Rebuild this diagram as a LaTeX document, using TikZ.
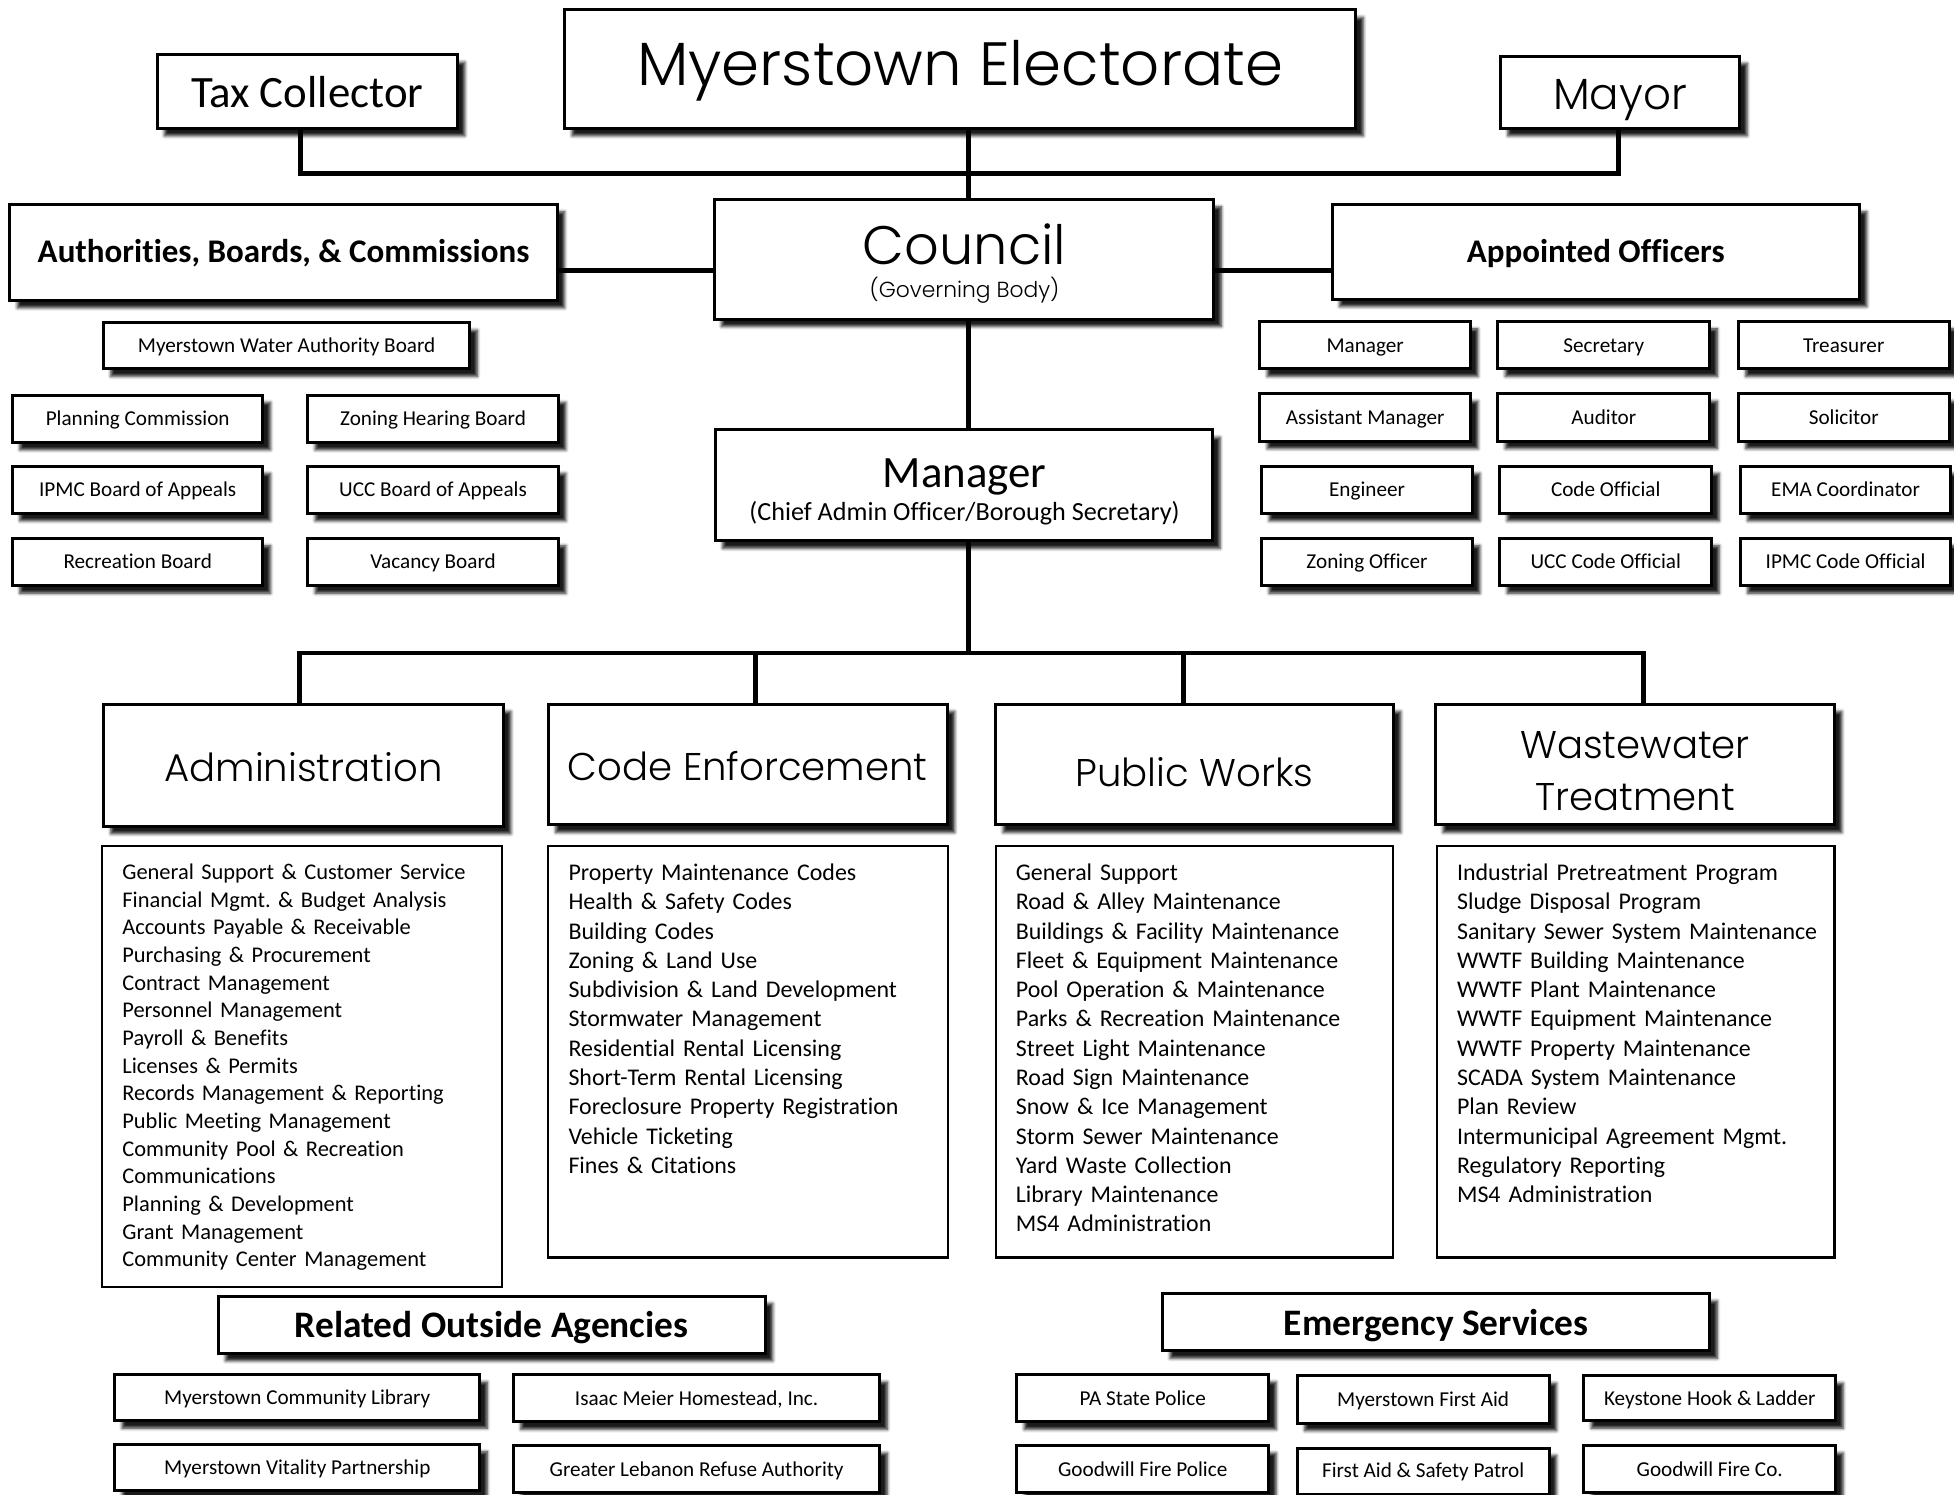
\documentclass[tikz,border=0pt]{standalone}
\usepackage{fontspec}
\setmainfont{Carlito}[Ligatures={NoCommon,NoContextual}]
\IfFontExistsTF{Poppins Light}{\newfontfamily\mont{Poppins Light}}{\newfontfamily\mont{Poppins}}
\usetikzlibrary{shadows.blur,backgrounds}
\tikzset{
  sbox/.style={draw, line width=2.4pt, fill=white, inner sep=0pt, outer sep=0pt, align=center,
    blur shadow={shadow xshift=6pt, shadow yshift=-6pt, shadow blur radius=2.5pt, shadow opacity=90}},
  wh/.style 2 args={minimum width=#1pt, minimum height=#2pt},
  th/.style={text height=#1pt, text depth=0pt},
  smbox/.style={sbox, th=11, font=\fontsize{17}{20}\selectfont},
  bighead/.style={sbox, th=26.4, font=\mont\fontsize{31}{38}\selectfont},
  boldhead/.style={sbox, th=17, font=\bfseries\fontsize{26.5}{30}\selectfont},
  lbox/.style={draw, line width=1.8pt, inner sep=0pt, outer sep=0pt},
  ltext/.style={anchor=north west, inner sep=0pt, align=left, text width=300pt},
  conn/.style={line width=4pt},
  txt/.style={inner sep=0pt, anchor=base},
}
\begin{document}
\frenchspacing
\begin{tikzpicture}[x=1pt,y=-1pt]
\useasboundingbox (0,0) rectangle (1568,1199);

% ---- top level
\node[sbox, wh={635}{95}, th=27, font=\mont\fontsize{49}{55}\selectfont] (elect) at (770.5,55.5) {Myerstown Electorate};
\node[sbox, wh={241}{59}, th=26, font=\fontsize{36}{40}\selectfont] (tax) at (246.5,73.5) {Tax Collector};
\node[sbox, wh={192}{58}, th=28.5, font=\mont\fontsize{35}{40}\selectfont] (mayor) at (1300,74) {Mayor};

\node[boldhead, wh={439}{77}] (abc) at (227.5,202.5) {Authorities, Boards, \& Commissions};
\node[sbox, wh={401}{96}] (council) at (773.5,208) {};
\node[txt, font=\mont\fontsize{43.5}{50}\selectfont] (counciltxt) at (774,212) {Council};
\node[txt, font=\mont\fontsize{17.5}{20}\selectfont] (govtxt) at (774,239) {(Governing Body)};
\node[boldhead, wh={423}{76}] (appt) at (1280.5,202) {Appointed Officers};

\node[sbox, wh={399}{89}] (mgr) at (773.5,389.5) {};
\node[txt, font=\fontsize{36}{40}\selectfont] (mgrtxt) at (774,391) {Manager};
\node[txt, font=\fontsize{21}{24}\selectfont] (mgrsub) at (774,418) {(Chief Admin Officer/Borough Secretary)};

% ---- authorities, boards & commissions
\node[smbox, wh={294}{37}] (wab) at (230,277.5) {Myerstown Water Authority Board};
\node[smbox, wh={201}{38}] (pc) at (110.5,336) {Planning Commission};
\node[smbox, wh={201}{38}] (zhb) at (347.5,336) {Zoning Hearing Board};
\node[smbox, wh={201}{38}] (ipmcb) at (110.5,393) {IPMC Board of Appeals};
\node[smbox, wh={201}{38}] (uccb) at (347.5,393) {UCC Board of Appeals};
\node[smbox, wh={201}{38}] (rec) at (110.5,451) {Recreation Board};
\node[smbox, wh={201}{38}] (vac) at (347.5,451) {Vacancy Board};

% ---- appointed officers
\node[smbox, wh={169}{38}] (o11) at (1095.5,277) {Manager};
\node[smbox, wh={170}{38}] (o12) at (1287,277) {Secretary};
\node[smbox, wh={169}{38}] (o13) at (1479.5,277) {Treasurer};
\node[smbox, wh={169}{38}] (o21) at (1095.5,335) {Assistant Manager};
\node[smbox, wh={170}{38}] (o22) at (1287,335) {Auditor};
\node[smbox, wh={169}{38}] (o23) at (1479.5,335) {Solicitor};
\node[smbox, wh={169}{38}] (o31) at (1097,393) {Engineer};
\node[smbox, wh={170}{38}] (o32) at (1288.5,393) {Code Official};
\node[smbox, wh={169}{38}] (o33) at (1481,393) {EMA Coordinator};
\node[smbox, wh={169}{38}] (o41) at (1097,451) {Zoning Officer};
\node[smbox, wh={170}{38}] (o42) at (1288.5,451) {UCC Code Official};
\node[smbox, wh={169}{38}] (o43) at (1481,451) {IPMC Code Official};

% ---- departments
\node[bighead, wh={321}{98}] (adm) at (243.5,614) {Administration};
\node[bighead, wh={320}{97}] (code) at (600,613.5) {Code Enforcement};
\node[bighead, wh={319}{97}, th=35] (pw) at (958.5,613.5) {Public Works};
\node[sbox, wh={320}{97}] (ww) at (1312,613.5) {};
\node[txt, font=\mont\fontsize{31}{38}\selectfont] (wwt1) at (1312,609) {Wastewater};
\node[txt, font=\mont\fontsize{31}{38}\selectfont] (wwt2) at (1312,650) {Treatment};

% ---- lists
\node[lbox, wh={321}{354}] (admL) at (242.5,856) {};
\node[ltext, font=\fontsize{18}{22.2}\selectfont] (admT) at (98,693) {General Support \& Customer Service\\
Financial Mgmt. \& Budget Analysis\\
Accounts Payable \& Receivable\\
Purchasing \& Procurement\\
Contract Management\\
Personnel Management\\
Payroll \& Benefits\\
Licenses \& Permits\\
Records Management \& Reporting\\
Public Meeting Management\\
Community Pool \& Recreation\\
Communications\\
Planning \& Development\\
Grant Management\\
Community Center Management};

\node[lbox, wh={321}{330}] (codeL) at (600.5,844) {};
\node[ltext, font=\fontsize{19.2}{23.5}\selectfont] (codeT) at (456,693) {Property Maintenance Codes\\
Health \& Safety Codes\\
Building Codes\\
Zoning \& Land Use\\
Subdivision \& Land Development\\
Stormwater Management\\
Residential Rental Licensing\\
Short-Term Rental Licensing\\
Foreclosure Property Registration\\
Vehicle Ticketing\\
Fines \& Citations};

\node[lbox, wh={319}{330}] (pwL) at (958.5,844) {};
\node[ltext, font=\fontsize{19.2}{23.5}\selectfont] (pwT) at (815,693) {General Support\\
Road \& Alley Maintenance\\
Buildings \& Facility Maintenance\\
Fleet \& Equipment Maintenance\\
Pool Operation \& Maintenance\\
Parks \& Recreation Maintenance\\
Street Light Maintenance\\
Road Sign Maintenance\\
Snow \& Ice Management\\
Storm Sewer Maintenance\\
Yard Waste Collection\\
Library Maintenance\\
MS4 Administration};

\node[lbox, wh={319}{330}] (wwL) at (1312.5,844) {};
\node[ltext, font=\fontsize{19.2}{23.5}\selectfont] (wwT) at (1169,693) {Industrial Pretreatment Program\\
Sludge Disposal Program\\
Sanitary Sewer System Maintenance\\
WWTF Building Maintenance\\
WWTF Plant Maintenance\\
WWTF Equipment Maintenance\\
WWTF Property Maintenance\\
SCADA System Maintenance\\
Plan Review\\
Intermunicipal Agreement Mgmt.\\
Regulatory Reporting\\
MS4 Administration};

% ---- bottom groups
\node[sbox, wh={439}{46}, th=21.3, font=\bfseries\fontsize{30}{34}\selectfont] (roa) at (394.5,1063) {Related Outside Agencies};
\node[sbox, wh={439}{46}, th=21.3, font=\bfseries\fontsize{30}{34}\selectfont] (es) at (1152.5,1061) {Emergency Services};

\node[smbox, wh={293}{37}] (lib) at (238.5,1121.5) {Myerstown Community Library};
\node[smbox, wh={294}{38}] (imh) at (559,1122) {Isaac Meier Homestead, Inc.};
\node[smbox, wh={293}{37}] (mvp) at (238.5,1177.5) {Myerstown Vitality Partnership};
\node[smbox, wh={294}{38}] (glra) at (559,1179) {Greater Lebanon Refuse Authority};

\node[smbox, wh={202}{38}] (pasp) at (917,1122) {PA State Police};
\node[smbox, wh={202}{38}] (mfa) at (1142,1123) {Myerstown First Aid};
\node[smbox, wh={202}{36}] (khl) at (1372,1122) {Keystone Hook \& Ladder};
\node[smbox, wh={202}{38}] (gfp) at (917,1179) {Goodwill Fire Police};
\node[smbox, wh={202}{37}] (fasp) at (1142,1180.5) {First Aid \& Safety Patrol};
\node[smbox, wh={202}{38}] (gfc) at (1372,1179) {Goodwill Fire Co.};

% ---- connectors
\coordinate (vx) at (777,0);
\coordinate (tx) at (241,0);
\coordinate (mx) at (1299,0);
\coordinate (b1) at (0,139);
\coordinate (hl) at (0,217);
\coordinate (b2) at (0,524);
\coordinate (d1) at (240,524);
\coordinate (d2) at (606,524);
\coordinate (d3) at (950,524);
\coordinate (d4) at (1319,524);
\begin{scope}[on background layer]
\draw[conn] (tx |- tax.south) -- (tx |- b1) -- (mx |- b1) -- (mx |- mayor.south);
\draw[conn] (vx |- elect.south) -- (vx |- council.north);
\draw[conn] (abc.east |- hl) -- (council.west |- hl);
\draw[conn] (council.east |- hl) -- (appt.west |- hl);
\draw[conn] (vx |- council.south) -- (vx |- mgr.north);
\draw[conn] (vx |- mgr.south) -- (vx |- b2);
\draw[conn] (d1 |- adm.north) -- (d1) -- (d4) -- (d4 |- ww.north);
\draw[conn] (d2) -- (d2 |- code.north);
\draw[conn] (d3) -- (d3 |- pw.north);
\end{scope}
\end{tikzpicture}
\end{document}
